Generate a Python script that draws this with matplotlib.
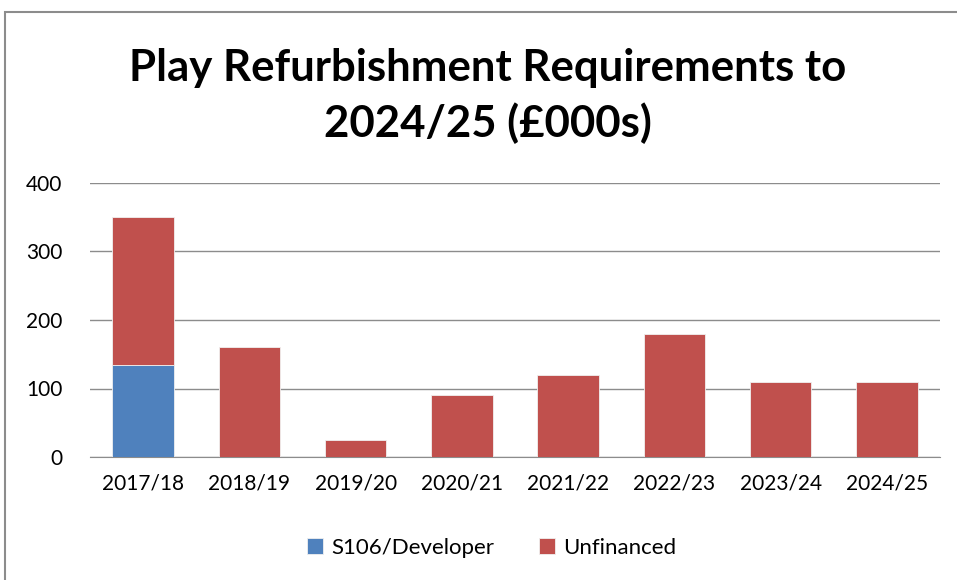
import matplotlib
matplotlib.use("Agg")
import matplotlib.pyplot as plt
from matplotlib.patches import Rectangle
import numpy as np

# Chart data (£000s)
years = ["2017/18", "2018/19", "2019/20", "2020/21", "2021/22", "2022/23", "2023/24", "2024/25"]
s106_developer = [135, 0, 0, 0, 0, 0, 0, 0]
unfinanced = [215, 160, 25, 90, 120, 180, 110, 110]

blue = "#4F81BD"
red = "#C0504D"

plt.rcParams["font.family"] = ["Lato", "DejaVu Sans"]

fig = plt.figure(figsize=(9.57, 5.80), dpi=100)
ax = fig.add_axes([90 / 957, 1 - 457 / 580, 850 / 957, 274 / 580])

x = np.arange(len(years))
ax.bar(x, s106_developer, width=0.58, color=blue, edgecolor="#f0f0f0", linewidth=0.6,
       label="S106/Developer", zorder=3)
ax.bar(x, unfinanced, width=0.58, bottom=s106_developer, color=red, edgecolor="#f0f0f0",
       linewidth=0.6, label="Unfinanced", zorder=3)

ax.set_xlim(-0.5, len(years) - 0.5)
ax.set_ylim(0, 400)
ax.set_yticks([0, 100, 200, 300, 400])
ax.set_xticks(x)
ax.set_xticklabels(years)
ax.tick_params(axis="both", length=0, labelsize=15, colors="#000000")
ax.tick_params(axis="y", pad=20)
ax.tick_params(axis="x", pad=12)
ax.grid(axis="y", color="#8c8c8c", linewidth=1.0, zorder=0)
for s in ["top", "right", "left"]:
    ax.spines[s].set_visible(False)
ax.spines["bottom"].set_color("#8c8c8c")

fig.text(0.51, 1 - 96 / 580, "Play Refurbishment Requirements to\n2024/25 (£000s)",
         ha="center", va="center", fontsize=31.5, fontweight="bold", linespacing=1.4)

ax.legend(loc="center", bbox_to_anchor=(492 / 957, 1 - 548 / 580), bbox_transform=fig.transFigure,
          ncol=2, frameon=False, fontsize=16, handlelength=0.7, handleheight=0.7,
          columnspacing=2.0, handletextpad=0.4)

# outer chart border (cropped at right/bottom)
fig.patches.append(Rectangle((5 / 957, -0.05), 1.1, 1 - 12 / 580 + 0.05, transform=fig.transFigure,
                             fill=False, edgecolor="#8c8c8c", linewidth=1.5))

fig.savefig("out.png", dpi=100)
